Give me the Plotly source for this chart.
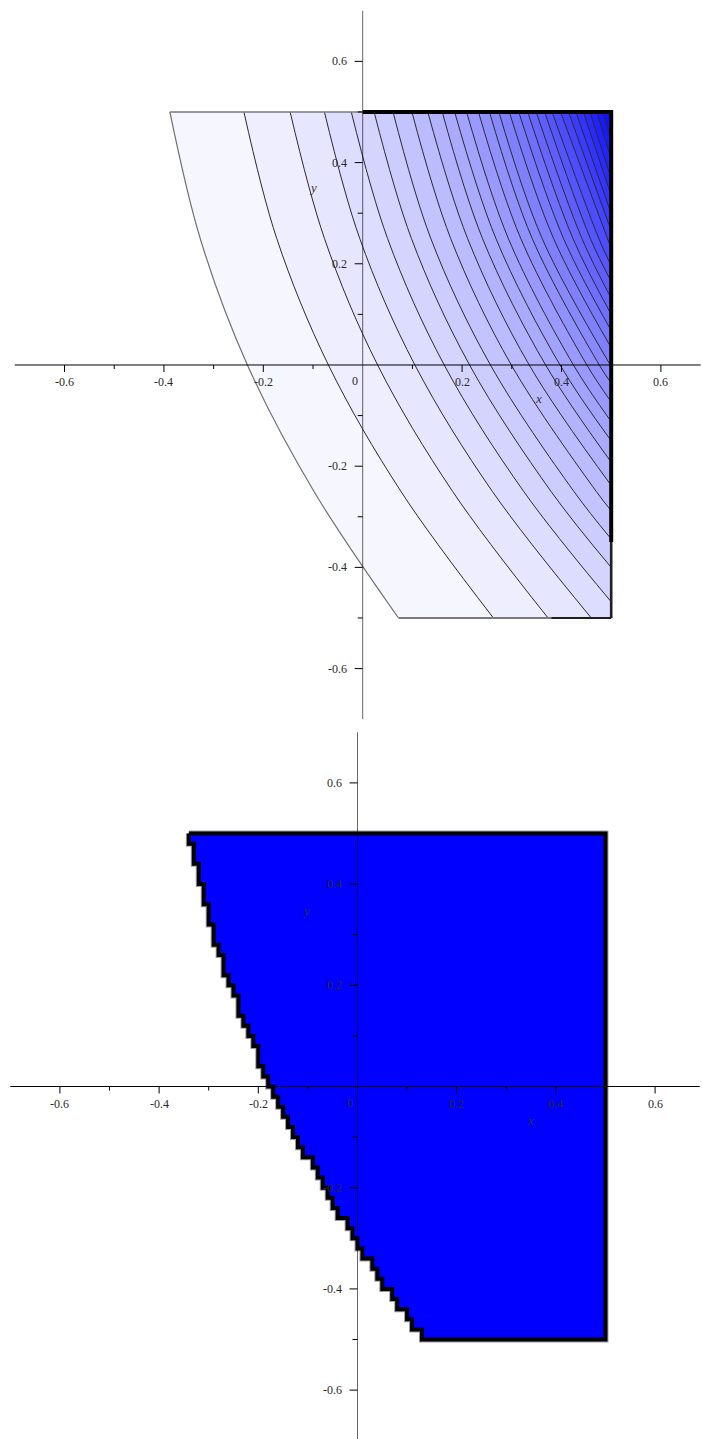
import plotly.graph_objects as go

# ---------------- top panel: shaded level curves ----------------
# x-position of every level curve at the sampled heights y = 0.5, 0.25, 0, -0.25, -0.5
# (None once the curve has already left through the right-hand edge x = 0.5)
level_x_050 = [-0.388, -0.239, -0.146, -0.077, -0.023, 0.023, 0.061, 0.099, 0.131, 0.160,
               0.185, 0.209, 0.233, 0.255, 0.274, 0.295, 0.314, 0.332, 0.349, 0.366,
               0.381, 0.398, 0.414, 0.429, 0.444, 0.457, 0.471, 0.483, 0.495]
level_x_025 = [-0.327, -0.173, -0.077, -0.006, 0.050, 0.098, 0.137, 0.177, 0.211, 0.241,
               0.268, 0.293, 0.318, 0.341, 0.361, 0.384, 0.404, 0.423, 0.441, 0.458,
               0.475, None, None, None, None, None, None, None, None]
level_x_000 = [-0.232, -0.069, 0.030, 0.105, 0.164, 0.215, 0.257, 0.299, 0.335, 0.368,
               0.397, 0.424, 0.451, 0.476, None, None, None, None, None, None,
               None, None, None, None, None, None, None, None, None]
level_x_m025 = [-0.098, 0.077, 0.181, 0.261, 0.324, 0.379, 0.425, 0.470, None, None,
                None, None, None, None, None, None, None, None, None, None,
                None, None, None, None, None, None, None, None, None]
level_x_m050 = [0.072, 0.263, 0.373, 0.460, None, None, None, None, None, None,
                None, None, None, None, None, None, None, None, None, None,
                None, None, None, None, None, None, None, None, None]
level_rows = [0.5, 0.25, 0.0, -0.25, -0.5]
# height at which a curve meets the right-hand edge (None: it runs into the bottom edge)
level_exit_y = [None, None, None, None, -0.468, -0.400, -0.344, -0.288, -0.238, -0.192,
                -0.150, -0.112, -0.073, -0.036, -0.003, 0.034, 0.068, 0.100, 0.132, 0.165,
                0.196, 0.230, 0.265, 0.299, 0.335, 0.368, 0.406, 0.442, 0.482]

# ---------------- bottom panel: feasible region ----------------
# left boundary of the region, sampled every 0.02 in y from 0.5 down to -0.5
region_left_x = [-0.34, -0.34, -0.33, -0.33, -0.32, -0.32, -0.31, -0.31, -0.30, -0.30,
                 -0.29, -0.29, -0.28, -0.27, -0.27, -0.26, -0.25, -0.24, -0.24, -0.23,
                 -0.22, -0.21, -0.20, -0.20, -0.19, -0.18, -0.17, -0.16, -0.15, -0.14,
                 -0.13, -0.12, -0.11, -0.09, -0.08, -0.07, -0.06, -0.05, -0.04, -0.02,
                 -0.01, 0.00, 0.01, 0.03, 0.04, 0.05, 0.07, 0.08, 0.10, 0.11, 0.13]
region_left_y = [round(0.5 - 0.02 * i, 2) for i in range(len(region_left_x))]
region_right = 0.5
region_top, region_bottom = 0.5, -0.5

# ---------------- axes ----------------
major_ticks = [-0.6, -0.4, -0.2, 0.2, 0.4, 0.6]
major_labels = ["-0.6", "-0.4", "-0.2", "0.2", "0.4", "0.6"]
minor_ticks = [-0.5, -0.3, -0.1, 0.1, 0.3, 0.5]

W, H = 702, 1439
X1_RANGE, Y1_RANGE = [-0.7298, 0.6827], [-0.7006, 0.7213]
X2_RANGE, Y2_RANGE = [-0.7208, 0.6946], [-0.6966, 0.7253]

fig = go.Figure()


def band_color(k, n=30):
    f = (k + 1) / n
    c = round(255 * (1 - f))
    return f"rgb({c},{c},255)"


def curve_points(k):
    cols = [level_x_050, level_x_025, level_x_000, level_x_m025, level_x_m050]
    xs, ys = [], []
    for col, yv in zip(cols, level_rows):
        if col[k] is not None:
            xs.append(col[k])
            ys.append(yv)
    if level_exit_y[k] is not None:
        xs.append(region_right)
        ys.append(level_exit_y[k])
    return xs, ys


n_curves = len(level_x_050)
spline = dict(shape="spline", smoothing=1)

# shaded bands: each curve is filled towards the right-hand edge, later curves on top
for k in range(n_curves):
    xs, ys = curve_points(k)
    fig.add_trace(go.Scatter(x=[region_right, region_right], y=[region_top, region_bottom],
                             mode="lines", line=dict(width=0), hoverinfo="skip",
                             xaxis="x", yaxis="y"))
    fig.add_trace(go.Scatter(x=xs, y=ys, mode="lines", line=dict(width=0, **spline),
                             fill="tonextx", fillcolor=band_color(k), hoverinfo="skip",
                             xaxis="x", yaxis="y"))

# the level curves themselves
for k in range(n_curves):
    xs, ys = curve_points(k)
    fig.add_trace(go.Scatter(x=xs, y=ys, mode="lines",
                             line=dict(color="#707070" if k == 0 else "#2a2a2a",
                                       width=1.2 if k == 0 else 1, **spline),
                             hoverinfo="skip", xaxis="x", yaxis="y"))

# outline of the shaded domain
outline = [
    ([level_x_050[0], 0.0], [region_top, region_top], "#7a7a7a", 1.5),
    ([level_x_m050[0], region_right], [region_bottom, region_bottom], "#7a7a7a", 2),
    ([0.38, region_right], [region_bottom, region_bottom], "#202020", 2.2),
    ([region_right, region_right], [-0.35, region_bottom], "#202020", 2.6),
    ([0.0, region_right, region_right], [region_top, region_top, -0.35], "black", 4),
]
for xs, ys, col, wd in outline:
    fig.add_trace(go.Scatter(x=xs, y=ys, mode="lines", line=dict(color=col, width=wd),
                             hoverinfo="skip", xaxis="x", yaxis="y"))

# bottom panel region, stair-stepped boundary (soft grey rim under the black border)
rx = region_left_x + [region_right, region_right, region_left_x[0]]
ry = region_left_y + [region_bottom, region_top, region_top]
fig.add_trace(go.Scatter(x=rx, y=ry, mode="lines",
                         line=dict(color="#9a9aa8", width=6, shape="hv"),
                         hoverinfo="skip", xaxis="x2", yaxis="y2"))
fig.add_trace(go.Scatter(x=rx, y=ry, mode="lines", fill="toself", fillcolor="#0000ff",
                         line=dict(color="black", width=4, shape="hv"),
                         hoverinfo="skip", xaxis="x2", yaxis="y2"))

# ---------------- axes drawn through the origin ----------------
shapes, annotations = [], []
label_font = dict(family="Liberation Serif, Times New Roman, serif", size=12, color="#2a2a2a")
title_font = dict(family="Liberation Serif, Times New Roman, serif", size=13, color="#333333")


def draw_axes(xr, yr, xrange, yrange, ydomain, x_end, x_label_pos, y_label_pos):
    px_x = W / (xrange[1] - xrange[0])
    px_y = H * (ydomain[1] - ydomain[0]) / (yrange[1] - yrange[0])
    shapes.append(dict(type="line", xref=xr, yref=yr, x0=-0.70, x1=x_end, y0=0, y1=0,
                       line=dict(color="black", width=1), layer="above"))
    shapes.append(dict(type="line", xref=xr, yref=yr, x0=0, x1=0, y0=-0.70, y1=0.70,
                       line=dict(color="rgba(0,0,0,0.6)", width=1), layer="above"))
    for t, ln in [(v, 7) for v in major_ticks] + [(v, 4) for v in minor_ticks]:
        shapes.append(dict(type="line", xref=xr, yref=yr, x0=t, x1=t, y0=0, y1=-ln / px_y,
                           line=dict(color="black", width=1), layer="above"))
    for t, ln in [(v, 8) for v in major_ticks] + [(v, 5) for v in minor_ticks]:
        shapes.append(dict(type="line", xref=xr, yref=yr, x0=0, x1=-ln / px_x, y0=t, y1=t,
                           line=dict(color="black", width=1), layer="above"))
    for t, lab in zip(major_ticks, major_labels):
        annotations.append(dict(xref=xr, yref=yr, x=t, y=0, text=lab, showarrow=False,
                                yshift=-17, xanchor="center", yanchor="middle", font=label_font))
        annotations.append(dict(xref=xr, yref=yr, x=0, y=t, text=lab, showarrow=False,
                                xshift=-14, xanchor="right", yanchor="middle", font=label_font))
    annotations.append(dict(xref=xr, yref=yr, x=0, y=0, text="0", showarrow=False,
                            xshift=-8, yshift=-16, xanchor="center", yanchor="middle",
                            font=label_font))
    annotations.append(dict(xref=xr, yref=yr, x=x_label_pos[0], y=x_label_pos[1],
                            text="<i>x</i>", showarrow=False, font=title_font))
    annotations.append(dict(xref=xr, yref=yr, x=y_label_pos[0], y=y_label_pos[1],
                            text="<i>y</i>", showarrow=False, font=title_font))


draw_axes("x", "y", X1_RANGE, Y1_RANGE, [0.5, 1.0], 0.68, (0.353, -0.067), (-0.101, 0.350))
draw_axes("x2", "y2", X2_RANGE, Y2_RANGE, [0.0, 0.5], 0.69, (0.348, -0.067), (-0.104, 0.347))

fig.update_layout(
    width=W, height=H, margin=dict(l=0, r=0, t=0, b=0),
    paper_bgcolor="white", plot_bgcolor="white", showlegend=False,
    xaxis=dict(domain=[0, 1], range=X1_RANGE, visible=False, anchor="y"),
    yaxis=dict(domain=[0.5, 1.0], range=Y1_RANGE, visible=False, anchor="x"),
    xaxis2=dict(domain=[0, 1], range=X2_RANGE, visible=False, anchor="y2"),
    yaxis2=dict(domain=[0.0, 0.5], range=Y2_RANGE, visible=False, anchor="x2"),
    shapes=shapes, annotations=annotations,
)

fig.write_html("out.html")
